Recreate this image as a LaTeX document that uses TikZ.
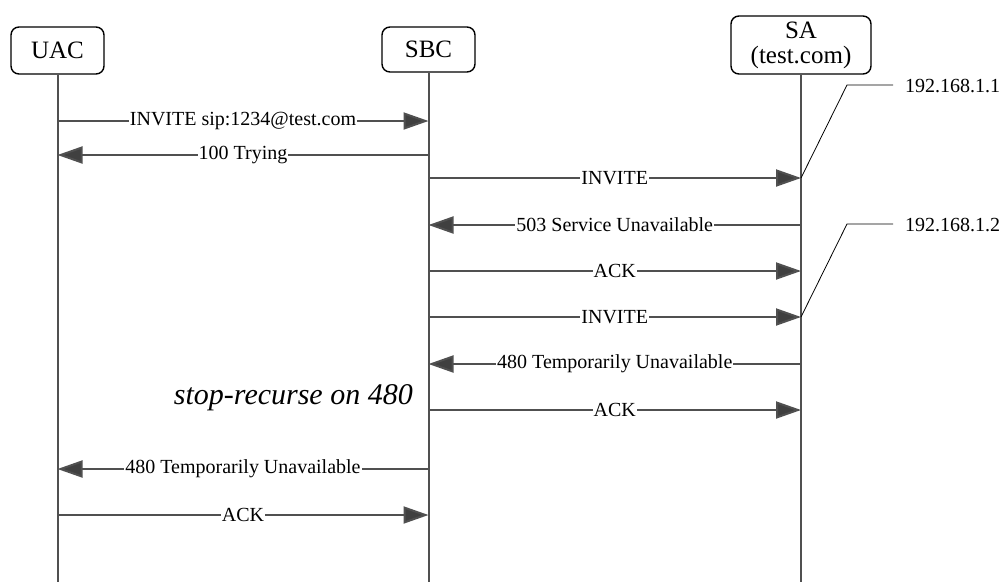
\documentclass[tikz,border=0pt]{standalone}
\usepackage{fontspec}
\setmainfont{Liberation Serif}
\usetikzlibrary{arrows.meta}
\usetikzlibrary{calc}
\definecolor{lifegray}{HTML}{505050}
\definecolor{tipgray}{HTML}{404040}
\tikzset{
    actor/.style={draw, line width=1.4pt, rounded corners=8pt, align=center, font=\fontsize{25}{27}\selectfont},
    life/.style={lifegray, line width=2pt},
    msg/.style={lifegray, line width=2pt, -{Triangle[length=25pt,width=17pt,fill=tipgray]}},
    msglabel/.style={fill=white, inner sep=1pt, text=black, font=\fontsize{20}{22}\selectfont},
    iplabel/.style={anchor=west, inner sep=0pt, font=\fontsize{20}{22}\selectfont}
}

\begin{document}
\begin{tikzpicture}[x=1pt, y=-1pt]
        \useasboundingbox (0,0) rectangle (1002,582);
        \node[actor, minimum width=93pt, minimum height=47pt] (uac) at (57.5,50.5) {UAC};
        \node[actor, minimum width=93pt, minimum height=45pt] (sbc) at (428.5,49.5) {SBC};
        \node[actor, minimum width=140pt, minimum height=58pt, inner sep=2pt] (sa) at (801,45) {SA\\[-2pt](test.com)};
        \foreach \n in {uac, sbc, sa}
        {
            \draw[life] (\n.south) -- (\n.south |- 0,582);
        }
        \foreach \a/\b/\y/\t in {uac/sbc/121/{INVITE sip:1234@test.com}, sbc/uac/155/{100 Trying},
            sbc/sa/178/INVITE, sa/sbc/225/{503 Service Unavailable}, sbc/sa/271/ACK,
            sbc/sa/317/INVITE, sa/sbc/364/{480 Temporarily Unavailable}, sbc/sa/410/ACK,
            sbc/uac/469/{480 Temporarily Unavailable}, uac/sbc/515/ACK}
        {
            \draw[msg] (\a.south |- 0,\y) -- node[msglabel] {\t} (\b.south |- 0,\y);
        }
        \node[anchor=east, inner sep=0pt, font=\fontsize{30}{32}\selectfont\itshape] (stop) at (413,398) {stop-recurse on 480};
        \node[iplabel] (ip1) at (905,86) {192.168.1.1};
        \node[iplabel] (ip2) at (905,225) {192.168.1.2};
        \coordinate (bend1) at (847,85);
        \coordinate (bend2) at (847,224);
        \draw[line width=0.8pt] (sa.south |- 0,178) -- (bend1) -- ($(ip1.west |- bend1)+(-12,0)$);
        \draw[line width=0.8pt] (sa.south |- 0,317) -- (bend2) -- ($(ip2.west |- bend2)+(-12,0)$);
    \end{tikzpicture}
\end{document}
